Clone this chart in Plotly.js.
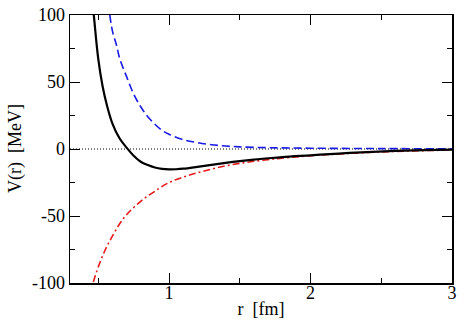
<!DOCTYPE html>
<html>
<head>
<meta charset="utf-8">
<script src="https://cdn.plot.ly/plotly-3.0.1.min.js"></script>
<style>
  html, body { margin: 0; padding: 0; background: #fff; }
  #chart { width: 469px; height: 330px; }
</style>
</head>
<body>
<div id="chart"></div>
<script>
// total potential (solid black)
var rTotal = [0.45, 0.47, 0.50, 0.53, 0.56, 0.60, 0.65, 0.70, 0.75, 0.80, 0.85, 0.90, 0.95, 1.00, 1.05, 1.10, 1.20, 1.30, 1.40, 1.50, 1.60, 1.70, 1.80, 2.00, 2.20, 2.40, 2.60, 2.80, 3.00];
var vTotal = [120, 98, 67, 47, 33, 19, 8, 1, -5, -9.5, -12, -13.8, -14.8, -15.2, -15.1, -14.7, -13.3, -11.8, -10.3, -9.0, -7.9, -6.9, -6.0, -4.7, -3.4, -2.3, -1.4, -0.8, -0.4];

// repulsive part (blue dashed)
var rRep = [0.56, 0.58, 0.60, 0.63, 0.65, 0.70, 0.75, 0.80, 0.85, 0.90, 0.95, 1.00, 1.10, 1.20, 1.30, 1.40, 1.50, 1.70, 2.00, 2.50, 3.00];
var vRep = [118, 101, 88, 77, 68, 54, 41, 31.5, 24, 18.5, 14, 11, 7, 4.8, 3.2, 2.2, 1.6, 1.0, 0.6, 0.3, 0.15];

// attractive part (red dash-dot)
var rAtt = [0.44, 0.46, 0.50, 0.55, 0.60, 0.65, 0.70, 0.80, 0.90, 1.00, 1.10, 1.20, 1.30, 1.40, 1.50, 1.60, 1.70, 1.80, 2.00, 2.20, 2.40, 2.60, 2.80, 3.00];
var vAtt = [-110, -101, -88, -75, -65, -56, -49, -39, -31.5, -25, -21, -17.8, -15, -12.6, -10.7, -9.2, -7.9, -6.8, -5.0, -3.7, -2.6, -1.8, -1.2, -0.8];

// axis ticks and titles
var xTicks = [1, 2, 3];
var yTicks = [-100, -50, 0, 50, 100];
var yTickText = ["-100", "-50", "0", "50", "100"];
var xTitle = "r  [fm]";
var yTitle = "V(r)  [MeV]";

var font = { family: "Liberation Serif", size: 18, color: "#000" };

var traces = [
  { x: rRep, y: vRep, mode: "lines", line: { color: "#1a1ae6", width: 1.6, dash: "8px,4px", shape: "spline" } },
  { x: rAtt, y: vAtt, mode: "lines", line: { color: "#e61a1a", width: 1.6, dash: "7px,3px,2px,3px", shape: "spline" } },
  { x: rTotal, y: vTotal, mode: "lines", line: { color: "#000", width: 2.2, shape: "spline" } }
];

var axisCommon = {
  showgrid: false,
  zeroline: false,
  showline: true,
  linecolor: "#000",
  linewidth: 1.5,
  mirror: "allticks",
  ticks: "inside",
  ticklen: 10,
  tickwidth: 1,
  tickcolor: "#000",
  tickfont: font
};

var layout = {
  width: 469,
  height: 330,
  margin: { l: 70, r: 17, t: 15, b: 47 },
  paper_bgcolor: "#fff",
  plot_bgcolor: "#fff",
  showlegend: false,
  font: font,
  xaxis: Object.assign({}, axisCommon, {
    range: [0.3, 3],
    tickvals: xTicks,
    ticklabelstandoff: -7,
    minor: { tickvals: [0.5, 1.5, 2.5], ticklen: 5, tickcolor: "#000", ticks: "inside" },
    title: { text: xTitle, font: font, standoff: 0 }
  }),
  yaxis: Object.assign({}, axisCommon, {
    range: [-100, 100],
    tickvals: yTicks,
    ticktext: yTickText,
    minor: { tickvals: [-75, -25, 25, 75], ticklen: 5, tickcolor: "#000", ticks: "inside" }
  }),
  // y title as an annotation so it sits where the reference has it
  annotations: [
    { text: yTitle, xref: "paper", yref: "paper", x: 0, y: 0.5, xanchor: "center", yanchor: "middle",
      xshift: -55, textangle: -90, showarrow: false, font: font }
  ],
  // dotted zero line
  shapes: [
    { type: "line", xref: "paper", x0: 0, x1: 1, yref: "y", y0: 0, y1: 0, line: { color: "#000", width: 1, dash: "1px,2px" }, layer: "below" }
  ]
};

Plotly.newPlot("chart", traces, layout, { displayModeBar: false, staticPlot: true });
</script>
</body>
</html>
